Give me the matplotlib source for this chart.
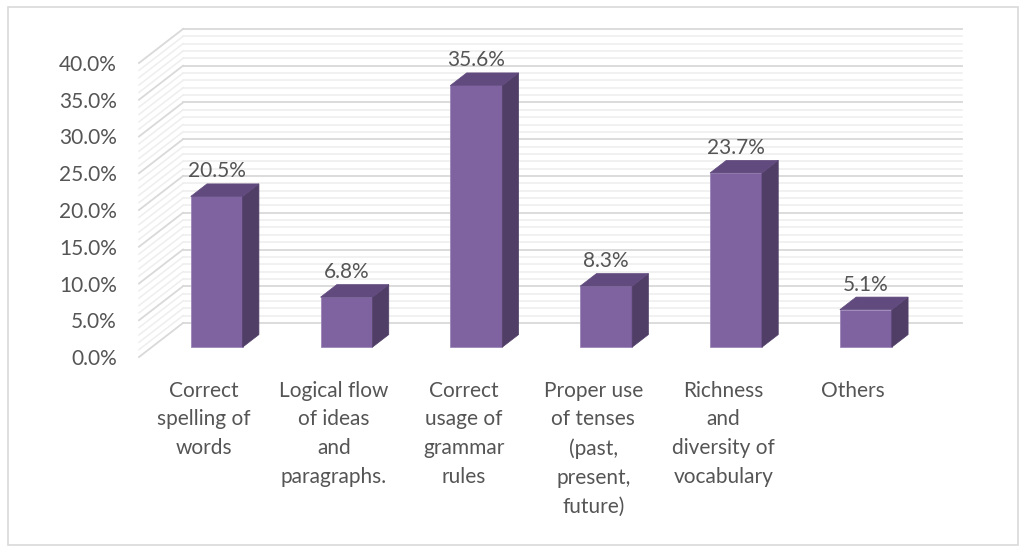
import matplotlib
matplotlib.use("Agg")
import matplotlib.pyplot as plt
from matplotlib.patches import Polygon, Rectangle

plt.rcParams['font.family'] = ['Lato', 'DejaVu Sans']

categories = ["Correct\nspelling of\nwords",
              "Logical flow\nof ideas\nand\nparagraphs.",
              "Correct\nusage of\ngrammar\nrules",
              "Proper use\nof tenses\n(past,\npresent,\nfuture)",
              "Richness\nand\ndiversity of\nvocabulary",
              "Others"]
values = [20.5, 6.8, 35.6, 8.3, 23.7, 5.1]
value_labels = ["20.5%", "6.8%", "35.6%", "8.3%", "23.7%", "5.1%"]
yticks = [0, 5, 10, 15, 20, 25, 30, 35, 40]
ytick_labels = ["0.0%", "5.0%", "10.0%", "15.0%", "20.0%", "25.0%", "30.0%", "35.0%", "40.0%"]

W, H = 1025, 552
fig = plt.figure(figsize=(W / 100, H / 100), dpi=100)
fig.patch.set_facecolor('white')
fig.patches.append(Rectangle((8 / W, 7 / H), 1010 / W, 538 / H, transform=fig.transFigure,
                             fill=False, edgecolor='#D9D9D9', linewidth=1.2))

ax = fig.add_axes([139 / W, (H - 357) / H, 779 / W, 294 / H])
n = len(values)
ax.set_xlim(0, n)
ax.set_ylim(0, 40)
for s in ax.spines.values():
    s.set_visible(False)
ax.set_facecolor('none')

# depth shift (full depth) in data units
DX = 44 / (779 / n)
DY = 34 / (294 / 40)

text_color = '#555555'
fs = 15

# gridlines: back wall and side wall
for p in range(0, 41):
    major = p % 5 == 0
    col = '#D9D9D9' if major else '#EEEEEE'
    lw = 1.3 if major else 1.1
    ax.plot([0, DX], [p, p + DY], color=col, lw=lw, clip_on=False, zorder=1 if not major else 2)
    ax.plot([DX, n + DX], [p + DY, p + DY], color=col, lw=lw, clip_on=False, zorder=1 if not major else 2)

d0, d1 = 0.29, 0.66
bw = 0.4
front_c = '#7F63A1'
side_c = '#503E67'
top_c = '#614A7E'
for i, v in enumerate(values):
    x0 = i + 0.5 - bw / 2 + DX * d0
    x1 = x0 + bw
    y0 = DY * d0
    ddx = DX * (d1 - d0)
    ddy = DY * (d1 - d0)
    front = Polygon([(x0, y0), (x1, y0), (x1, y0 + v), (x0, y0 + v)], closed=True,
                    facecolor=front_c, edgecolor='#9C86B8', lw=0.6, clip_on=False, zorder=5)
    side = Polygon([(x1, y0), (x1 + ddx, y0 + ddy), (x1 + ddx, y0 + ddy + v), (x1, y0 + v)],
                   closed=True, facecolor=side_c, edgecolor=side_c, lw=0.5, clip_on=False, zorder=5)
    top = Polygon([(x0, y0 + v), (x1, y0 + v), (x1 + ddx, y0 + v + ddy), (x0 + ddx, y0 + v + ddy)],
                  closed=True, facecolor=top_c, edgecolor=top_c, lw=0.5, clip_on=False, zorder=5)
    for p in (front, side, top):
        ax.add_patch(p)
    ax.annotate(value_labels[i], xy=(i + 0.5 + DX * d0, v + DY * d1), xytext=(0, 9),
                textcoords='offset points', ha='center', va='center', fontsize=fs,
                color=text_color, zorder=6, annotation_clip=False)

ax.set_yticks(yticks)
ax.set_yticklabels(ytick_labels)
ax.set_xticks([i + 0.5 for i in range(n)])
ax.set_xticklabels(categories, linespacing=1.55)
ax.tick_params(axis='y', length=0, pad=16, labelsize=fs, labelcolor=text_color)
ax.tick_params(axis='x', length=0, pad=17, labelsize=fs, labelcolor=text_color)
for t in ax.get_xticklabels():
    t.set_verticalalignment('top')
    t.set_horizontalalignment('center')

fig.savefig('out.png', dpi=100, facecolor='white')
